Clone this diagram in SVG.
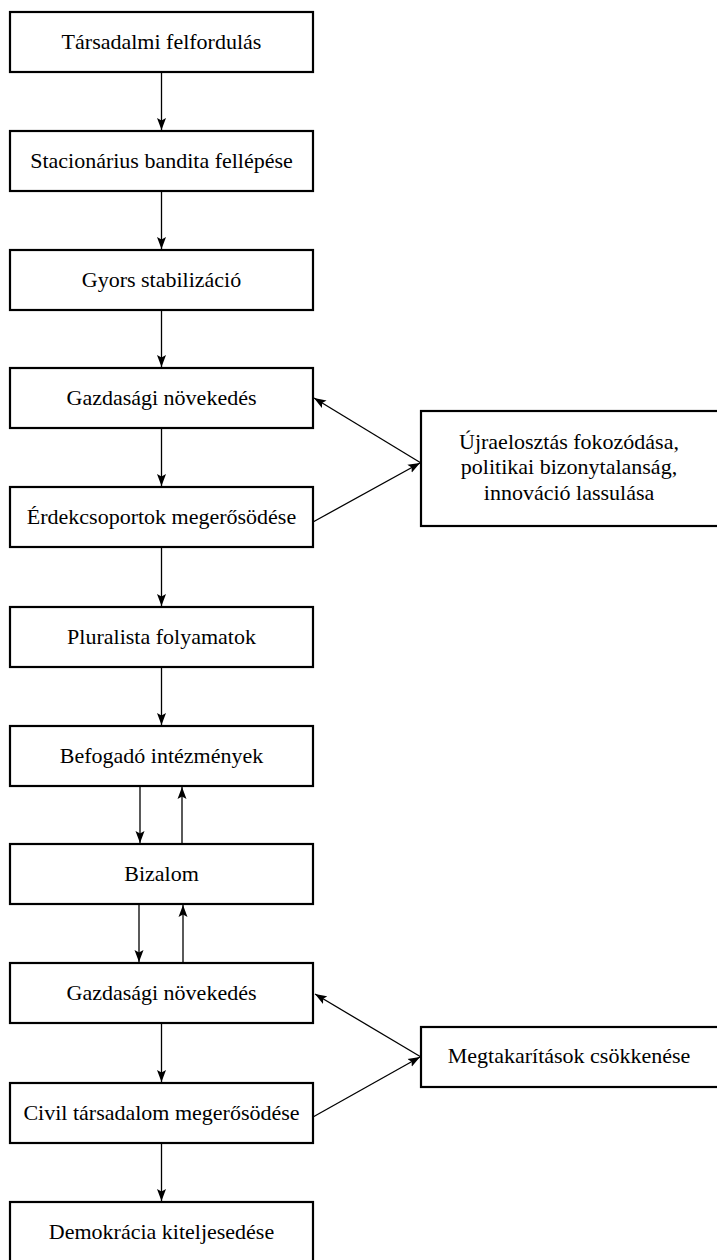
<svg xmlns="http://www.w3.org/2000/svg" width="717" height="1260" viewBox="0 0 717 1260">
  <style>
    .box { fill: #ffffff; stroke: #000000; stroke-width: 2.2; }
    .lbl { font-family: "Liberation Serif", "Times New Roman", serif; font-size: 22px; fill: #000000; text-anchor: middle; }
    .con { stroke: #000000; stroke-width: 1.3; fill: none; marker-end: url(#arr); }
  </style>
  <defs>
    <marker id="arr" markerUnits="userSpaceOnUse" markerWidth="12" markerHeight="10" viewBox="0 0 12 10" refX="12" refY="5" orient="auto">
      <path d="M0,0.5 L12,5 L0,9.5 L2.5,5 Z" fill="#000000"/>
    </marker>
  </defs>
  <rect width="717" height="1260" fill="#ffffff"/>

  <g id="connectors">
    <line class="con" x1="161.5" y1="72" x2="161.5" y2="130"/>
    <line class="con" x1="161.5" y1="191" x2="161.5" y2="249"/>
    <line class="con" x1="161.5" y1="310" x2="161.5" y2="367"/>
    <line class="con" x1="161.5" y1="428" x2="161.5" y2="486"/>
    <line class="con" x1="161.5" y1="547" x2="161.5" y2="606"/>
    <line class="con" x1="161.5" y1="667" x2="161.5" y2="725"/>
    <line class="con" x1="140" y1="786" x2="140" y2="843"/>
    <line class="con" x1="182" y1="844" x2="182" y2="787"/>
    <line class="con" x1="139" y1="904" x2="139" y2="962"/>
    <line class="con" x1="183" y1="963" x2="183" y2="905"/>
    <line class="con" x1="161.5" y1="1023" x2="161.5" y2="1082"/>
    <line class="con" x1="161.5" y1="1143" x2="161.5" y2="1201"/>
    <line class="con" x1="421" y1="463" x2="314" y2="398"/>
    <line class="con" x1="313" y1="522" x2="420" y2="463"/>
    <line class="con" x1="421" y1="1057" x2="315" y2="994"/>
    <line class="con" x1="313" y1="1117" x2="420" y2="1057"/>
  </g>

  <g id="n1"><rect class="box" x="10" y="12" width="303" height="60"/><text class="lbl" x="161.5" y="49">Társadalmi felfordulás</text></g>
  <g id="n2"><rect class="box" x="10" y="131" width="303" height="60"/><text class="lbl" x="161.5" y="168">Stacionárius bandita fellépése</text></g>
  <g id="n3"><rect class="box" x="10" y="250" width="303" height="60"/><text class="lbl" x="161.5" y="287">Gyors stabilizáció</text></g>
  <g id="n4"><rect class="box" x="10" y="368" width="303" height="60"/><text class="lbl" x="161.5" y="405">Gazdasági növekedés</text></g>
  <g id="n5"><rect class="box" x="10" y="487" width="303" height="60"/><text class="lbl" x="161.5" y="524">Érdekcsoportok megerősödése</text></g>
  <g id="n6"><rect class="box" x="10" y="607" width="303" height="60"/><text class="lbl" x="161.5" y="644">Pluralista folyamatok</text></g>
  <g id="n7"><rect class="box" x="10" y="726" width="303" height="60"/><text class="lbl" x="161.5" y="763">Befogadó intézmények</text></g>
  <g id="n8"><rect class="box" x="10" y="844" width="303" height="60"/><text class="lbl" x="161.5" y="881">Bizalom</text></g>
  <g id="n9"><rect class="box" x="10" y="963" width="303" height="60"/><text class="lbl" x="161.5" y="1000">Gazdasági növekedés</text></g>
  <g id="n10"><rect class="box" x="10" y="1083" width="303" height="60"/><text class="lbl" x="161.5" y="1120">Civil társadalom megerősödése</text></g>
  <g id="n11"><rect class="box" x="10" y="1202" width="303" height="60"/><text class="lbl" x="161.5" y="1239">Demokrácia kiteljesedése</text></g>

  <g id="r1"><rect class="box" x="421" y="411" width="300" height="115"/>
    <text class="lbl" x="569" y="449">Újraelosztás fokozódása,</text>
    <text class="lbl" x="569" y="474">politikai bizonytalanság,</text>
    <text class="lbl" x="569" y="500">innováció lassulása</text>
  </g>
  <g id="r2"><rect class="box" x="421" y="1027" width="300" height="60"/><text class="lbl" x="569" y="1063">Megtakarítások csökkenése</text></g>
</svg>
